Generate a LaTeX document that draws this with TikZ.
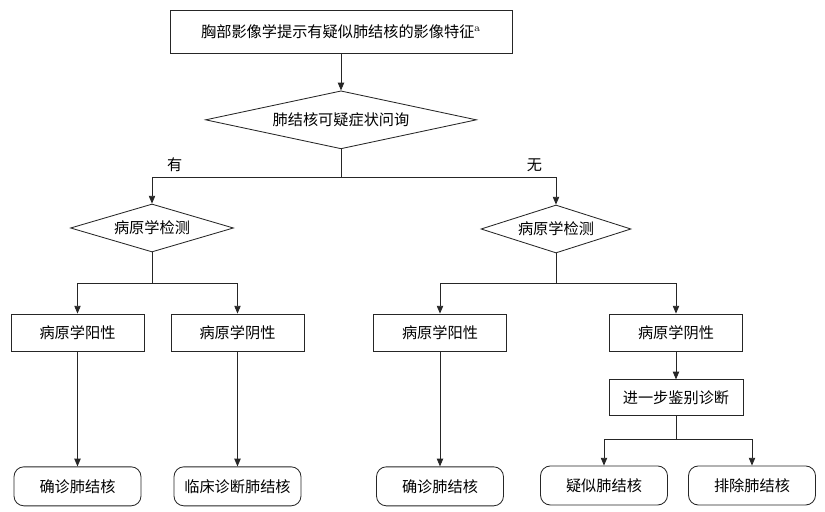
\documentclass[tikz,border=0pt]{standalone}
\usepackage{fontspec}
\newfontfamily\cjk{Noto Sans CJK SC}
\usepackage{tikz}
\usetikzlibrary{shapes.geometric,arrows.meta,positioning,calc}
\tikzset{
  stepbox/.style={rectangle,draw=black!85,line width=0.6pt,
    minimum width=3.325cm,minimum height=0.925cm,align=center,
    font=\cjk\fontsize{10.8pt}{13pt}\selectfont,inner sep=2pt},
  askbox/.style={diamond,draw=black!85,line width=0.6pt,aspect=4,
    align=center,font=\cjk\fontsize{10.8pt}{13pt}\selectfont,inner sep=0pt},
  endbox/.style={rectangle,rounded corners=7pt,draw=black!85,line width=0.6pt,
    minimum width=3.175cm,minimum height=0.975cm,align=center,
    font=\cjk\fontsize{10.8pt}{13pt}\selectfont,inner sep=2pt},
  tag/.style={font=\cjk\fontsize{10.8pt}{13pt}\selectfont},
  line/.style={draw=black!85,line width=0.6pt},
  arrow/.style={line,-{Triangle[length=5.5pt,width=4.5pt]}},
}

\begin{document}
\begin{tikzpicture}[node distance=0.6cm]
  \useasboundingbox (0,0) rectangle (20.625,-12.8);
  \node[stepbox, minimum width=8.55cm, minimum height=1.075cm] (top) at (8.525,-0.7875)
    {胸部影像学提示有疑似肺结核的影像特征\textsuperscript{\normalfont a}};
  \node[askbox, minimum width=6.775cm, minimum height=1.45cm, below=0.925cm of top] (ask) {肺结核可疑症状问询};
  \coordinate[below=0.7cm of ask] (j0);
  \node[askbox, minimum width=4.075cm, minimum height=1.2cm] (testL) at (3.8,-5.7)   {病原学检测};
  \node[askbox, minimum width=3.75cm,  minimum height=1.2cm] (testR) at (13.9,-5.725) {病原学检测};
  \coordinate[below=0.775cm of testL] (j1);
  \coordinate[below=0.75cm of testR]  (j2);
  \node[stepbox] (posL) at (1.9375,-8.3125) {病原学阳性};
  \node[stepbox] (negL) at (5.9375,-8.3125) {病原学阴性};
  \node[stepbox] (posR) at (11.0,-8.3125)   {病原学阳性};
  \node[stepbox] (negR) at (16.9,-8.3125)   {病原学阴性};
  \node[stepbox, minimum width=3.35cm, minimum height=0.9cm, below=0.7cm of negR] (diff) {进一步鉴别诊断};
  \coordinate[below=0.575cm of diff] (j3);
  \node[endbox, below=2.875cm of posL] (dxL)   {确诊肺结核};
  \node[endbox, below=2.875cm of negL] (clinL) {临床诊断肺结核};
  \node[endbox, below=2.875cm of posR] (dxR)   {确诊肺结核};
  \node[endbox] (susp) at (15.1,-12.1375) {疑似肺结核};
  \node[endbox] (excl) at (18.8,-12.1375) {排除肺结核};
  \draw[arrow] (top) -- (ask);
  \draw[line]  (ask) -- (j0);
  \draw[arrow] (j0) -| node[tag,above,pos=0.44]{有} (testL);
  \draw[arrow] (j0) -| node[tag,above,pos=0.45]{无} (testR);
  \draw[line]  (testL) -- (j1);
  \draw[arrow] (j1) -| (posL);
  \draw[arrow] (j1) -| (negL);
  \draw[line]  (testR) -- (j2);
  \draw[arrow] (j2) -| (posR);
  \draw[arrow] (j2) -| (negR);
  \draw[arrow] (posL) -- (dxL);
  \draw[arrow] (negL) -- (clinL);
  \draw[arrow] (posR) -- (dxR);
  \draw[arrow] (negR) -- (diff);
  \draw[line]  (diff) -- (j3);
  \draw[arrow] (j3) -| (susp);
  \draw[arrow] (j3) -| (excl);
\end{tikzpicture}
\end{document}
